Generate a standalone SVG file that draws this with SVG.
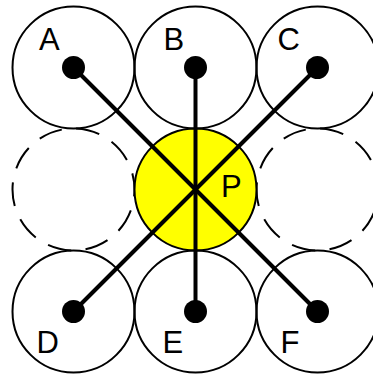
<svg xmlns="http://www.w3.org/2000/svg" width="373" height="375" viewBox="0 0 373 375">
  <style>
    .ring { fill: none; stroke: #000; stroke-width: 2; }
    .ghost { fill: none; stroke: #000; stroke-width: 2; stroke-dasharray: 23.9 14.43; stroke-dashoffset: 17; }
    .hub { fill: #ffff00; stroke: #000; stroke-width: 2; }
    .spoke { stroke: #000; stroke-width: 4; fill: none; }
    .dot { fill: #000; }
    .label { font-family: "Liberation Sans", Arial, sans-serif; font-size: 31px; fill: #000; }
  </style>
  <rect width="373" height="375" fill="#fff"/>

  <!-- empty neighbour slots -->
  <g id="slot-left"><circle class="ghost" cx="73.5" cy="189.5" r="61"/></g>
  <g id="slot-right"><circle class="ghost" cx="317.5" cy="189.5" r="61"/></g>

  <!-- centre node -->
  <g id="node-P">
    <circle class="hub" cx="195.5" cy="189.5" r="61"/>
  </g>

  <!-- outer nodes -->
  <g id="node-A"><circle class="ring" cx="73.5" cy="67.5" r="61"/><text class="label" x="39" y="50">A</text></g>
  <g id="node-B"><circle class="ring" cx="195.5" cy="67.5" r="61"/><text class="label" x="163.5" y="49.5">B</text></g>
  <g id="node-C"><circle class="ring" cx="317.5" cy="67.5" r="61"/><text class="label" x="277.5" y="49.5">C</text></g>
  <g id="node-D"><circle class="ring" cx="73.5" cy="311.5" r="61"/><text class="label" x="36.5" y="352.5">D</text></g>
  <g id="node-E"><circle class="ring" cx="195.5" cy="311.5" r="61"/><text class="label" x="162.5" y="352.5">E</text></g>
  <g id="node-F"><circle class="ring" cx="317.5" cy="311.5" r="61"/><text class="label" x="280.5" y="352.5">F</text></g>

  <!-- spokes from the centre to each outer node -->
  <g id="connectors">
    <line class="spoke" x1="195.5" y1="189.5" x2="73.5" y2="67.5"/>
    <line class="spoke" x1="195.5" y1="189.5" x2="195.5" y2="67.5"/>
    <line class="spoke" x1="195.5" y1="189.5" x2="317.5" y2="67.5"/>
    <line class="spoke" x1="195.5" y1="189.5" x2="73.5" y2="311.5"/>
    <line class="spoke" x1="195.5" y1="189.5" x2="195.5" y2="311.5"/>
    <line class="spoke" x1="195.5" y1="189.5" x2="317.5" y2="311.5"/>
    <circle class="dot" cx="73.5" cy="67.5" r="11.5"/>
    <circle class="dot" cx="195.5" cy="67.5" r="11.5"/>
    <circle class="dot" cx="317.5" cy="67.5" r="11.5"/>
    <circle class="dot" cx="73.5" cy="311.5" r="11.5"/>
    <circle class="dot" cx="195.5" cy="311.5" r="11.5"/>
    <circle class="dot" cx="317.5" cy="311.5" r="11.5"/>
  </g>

  <text class="label" x="221" y="197">P</text>
</svg>
